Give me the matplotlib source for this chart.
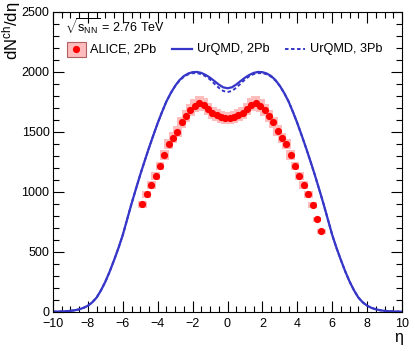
import matplotlib
matplotlib.use("Agg")
import matplotlib.pyplot as plt
from matplotlib.patches import Rectangle
from matplotlib.ticker import MultipleLocator

plt.rcParams["font.family"] = ["Liberation Sans", "DejaVu Sans"]
plt.rcParams["mathtext.fontset"] = "custom"
plt.rcParams["mathtext.rm"] = "Liberation Sans"
plt.rcParams["mathtext.it"] = "Liberation Sans"

# ALICE data (points + systematic boxes)
alice_eta = [-4.875, -4.625, -4.375, -4.125, -3.875, -3.625, -3.375, -3.125,
             -2.875, -2.625, -2.375, -2.125, -1.875, -1.625, -1.375, -1.125,
             -0.875, -0.625, -0.375, -0.125, 0.125, 0.375, 0.625, 0.875,
             1.125, 1.375, 1.625, 1.875, 2.125, 2.375, 2.625, 2.875,
             3.125, 3.375, 3.625, 3.875, 4.125, 4.375, 4.625, 4.875,
             5.125, 5.375]
alice_val = [895, 978, 1053, 1133, 1214, 1306, 1400, 1450,
             1500, 1578, 1631, 1681, 1717, 1742, 1725, 1689,
             1658, 1637, 1620, 1612, 1612, 1620, 1637, 1658,
             1689, 1725, 1742, 1717, 1681, 1631, 1578, 1508,
             1445, 1395, 1306, 1214, 1133, 1053, 978, 889,
             770, 670]
alice_err = [27, 29, 32, 34, 36, 39, 42, 44,
             45, 47, 49, 50, 52, 52, 52, 51,
             50, 49, 49, 48, 48, 49, 49, 50,
             51, 52, 52, 52, 50, 49, 47, 45,
             43, 42, 39, 36, 34, 32, 29, 27,
             23, 20]

# UrQMD curves
urqmd_eta = [-10.0, -9.75, -9.5, -9.25, -9.0, -8.75, -8.5, -8.25, -8.0, -7.75,
             -7.5, -7.25, -7.0, -6.75, -6.5, -6.25, -6.0, -5.75, -5.5, -5.25,
             -5.0, -4.75, -4.5, -4.25, -4.0, -3.75, -3.5, -3.25, -3.0, -2.75,
             -2.5, -2.25, -2.0, -1.75, -1.5, -1.25, -1.0, -0.75, -0.5, -0.25,
             0.0, 0.25, 0.5, 0.75, 1.0, 1.25, 1.5, 1.75, 2.0, 2.25,
             2.5, 2.75, 3.0, 3.25, 3.5, 3.75, 4.0, 4.25, 4.5, 4.75,
             5.0, 5.25, 5.5, 5.75, 6.0, 6.25, 6.5, 6.75, 7.0, 7.25,
             7.5, 7.75, 8.0, 8.25, 8.5, 8.75, 9.0, 9.25, 9.5, 9.75, 10.0]
urqmd_2pb = [0, 1, 2, 4, 7, 12, 20, 32, 50, 78,
             118, 178, 250, 335, 430, 530, 640, 770, 900, 1022,
             1142, 1255, 1365, 1470, 1572, 1665, 1752, 1822, 1882, 1930,
             1964, 1985, 1996, 1998, 1990, 1973, 1950, 1922, 1893, 1870,
             1862, 1870, 1893, 1922, 1950, 1973, 1990, 1998, 1996, 1985,
             1964, 1930, 1882, 1822, 1752, 1665, 1572, 1470, 1365, 1255,
             1142, 1022, 900, 770, 640, 530, 430, 335, 250, 178,
             118, 78, 50, 32, 20, 12, 7, 4, 2, 1, 0]
urqmd_3pb = [0, 1, 2, 4, 7, 12, 20, 32, 50, 78,
             118, 178, 250, 335, 430, 530, 640, 770, 900, 1022,
             1142, 1255, 1365, 1470, 1572, 1665, 1752, 1822, 1880, 1926,
             1958, 1978, 1988, 1988, 1980, 1962, 1935, 1900, 1866, 1840,
             1830, 1840, 1866, 1900, 1935, 1962, 1980, 1988, 1988, 1978,
             1958, 1926, 1880, 1822, 1752, 1665, 1572, 1470, 1365, 1255,
             1142, 1022, 900, 770, 640, 530, 430, 335, 250, 178,
             118, 78, 50, 32, 20, 12, 7, 4, 2, 1, 0]

BLUE = "#3636c8"
RED = "#ff0000"
PINK = "#ffbcbc"
BIN_W = 0.5

fig = plt.figure(figsize=(4.15, 3.51), dpi=100)
ax = fig.add_axes([53 / 415, 1 - 311.7 / 351, 349 / 415, 300 / 351])

for e, v, err in zip(alice_eta, alice_val, alice_err):
    ax.add_patch(Rectangle((e - BIN_W / 2, v - err), BIN_W, 2 * err,
                           facecolor=PINK, edgecolor="none", zorder=1))
ax.plot(alice_eta, alice_val, "o", color=RED, ms=5.2, mew=0, zorder=3)

ax.plot(urqmd_eta, urqmd_2pb, "-", color=BLUE, lw=1.6, zorder=2)
ax.plot(urqmd_eta, urqmd_3pb, color=BLUE, lw=1.4, ls=(0, (1.8, 1.3)), zorder=2)

ax.set_xlim(-10, 10)
ax.set_ylim(0, 2500)
ax.xaxis.set_major_locator(MultipleLocator(2))
ax.xaxis.set_minor_locator(MultipleLocator(0.5))
ax.yaxis.set_major_locator(MultipleLocator(500))
ax.yaxis.set_minor_locator(MultipleLocator(100))
ax.tick_params(which="both", direction="in", top=True, right=True,
               labelsize=9, width=0.8)
ax.tick_params(which="major", length=8)
ax.tick_params(which="minor", length=4)
ax.tick_params(axis="x", which="major", pad=4.5)
ax.tick_params(axis="y", which="major", pad=2.5)
ax.set_xticklabels([f"{t:g}".replace("-", "\u2212") for t in ax.get_xticks()])
for s in ax.spines.values():
    s.set_linewidth(0.8)

fig.text(12 / 415, 1 - 2 / 351, "dN$^{\\rm ch}$/dη", rotation=90,
         ha="center", va="top", fontsize=12)
fig.text(403 / 415, 1 - 330 / 351, "η", ha="right", va="top", fontsize=11.5)

# legend, drawn by hand in axes coordinates
tr = ax.transAxes
ax.text(0.034, 0.949, "$\\sqrt{\\mathrm{s}_{\\mathrm{NN}}}$ = 2.76 TeV",
        transform=tr, fontsize=9, va="center", ha="left")
ax.add_patch(Rectangle((0.0392, 0.85), 0.0545, 0.05, transform=tr,
                       facecolor=PINK, edgecolor="#b06060", lw=0.8, zorder=4))
ax.plot([0.0665], [0.875], "o", color=RED, ms=5.2, mew=0, transform=tr,
        zorder=5)
ax.text(0.106, 0.875, "ALICE, 2Pb", transform=tr, fontsize=9.2,
        va="center", ha="left")
ax.plot([0.341, 0.398], [0.875, 0.875], "-", color=BLUE, lw=1.6,
        transform=tr)
ax.text(0.413, 0.875, "UrQMD, 2Pb", transform=tr, fontsize=9.2,
        va="center", ha="left")
ax.plot([0.665, 0.722], [0.875, 0.875], color=BLUE, lw=1.4,
        ls=(0, (1.8, 1.3)), transform=tr)
ax.text(0.736, 0.875, "UrQMD, 3Pb", transform=tr, fontsize=9.2,
        va="center", ha="left")

fig.savefig("out.png", dpi=100)
